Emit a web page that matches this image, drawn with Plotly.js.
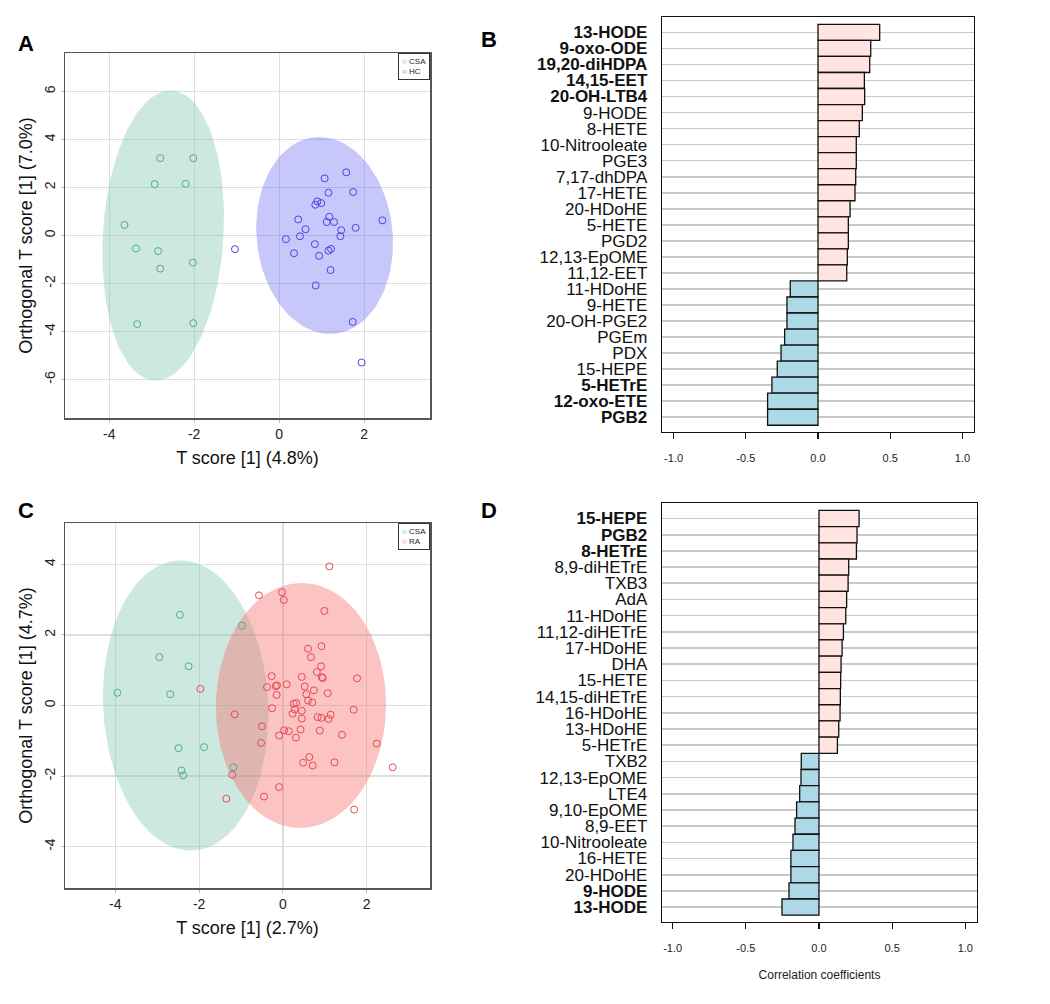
<!DOCTYPE html>
<html>
<head>
<meta charset="utf-8">
<script src="https://cdn.plot.ly/plotly-3.0.1.min.js"></script>
<style>html,body{margin:0;padding:0;background:#fff}#chart{width:1050px;height:1004px}</style>
</head>
<body>
<div id="chart"></div>
<script>
// ---------- Panel A: OPLS-DA scores, CSA vs HC ----------
const aCsaX = [-2.80, -2.02, -2.93, -2.20, -3.64, -3.37, -2.85, -2.80, -2.03, -3.34, -2.02];
const aCsaY = [3.22, 3.22, 2.14, 2.15, 0.44, -0.54, -0.65, -1.38, -1.13, -3.69, -3.65];
const aHcX = [-1.04, 1.58, 1.07, 1.16, 1.74, 0.85, 0.90, 0.99, 0.45, 1.18, 1.12, 1.29, 0.62, 1.46, 1.80, 2.43, 0.16, 0.49, 1.44, 0.84, 0.35, 0.94, 1.16, 1.22, 1.21, 0.86, 1.73, 1.94];
const aHcY = [-0.57, 2.63, 2.38, 1.78, 1.81, 1.28, 1.42, 1.35, 0.67, 0.78, 0.56, 0.56, 0.26, 0.22, 0.32, 0.63, -0.15, -0.03, -0.03, -0.36, -0.74, -0.85, -0.63, -0.56, -1.44, -2.08, -3.60, -5.29];
// ellipse: [centerX, centerY, radiusX, radiusY, shearX]
const ellipseA_CSA = [-2.73, 0.0, 1.42, 6.04, 0.175];
const ellipseA_HC = [1.07, 0.0, 1.605, 4.10, -0.125];
const aTicksX = [-4, -2, 0, 2];
const aTicksY = [-6, -4, -2, 0, 2, 4, 6];

// ---------- Panel C: OPLS-DA scores, CSA vs RA ----------
const cCsaX = [-2.46, -2.95, -2.25, -3.95, -2.69, -2.49, -1.88, -2.42, -2.38, -1.18, -0.98];
const cCsaY = [2.57, 1.37, 1.11, 0.36, 0.32, -1.21, -1.18, -1.84, -1.98, -1.75, 2.26];
const cRaX = [1.11, -0.57, -0.02, 0.02, 0.99, 0.60, 0.92, 0.67, 0.91, 0.81, 0.45, 0.93, 0.95, 1.77, -0.27, -0.38, -0.17, -0.14, 0.09, 0.52, 0.74, -0.15, 0.56, 1.07, -1.97, 0.60, 0.70, 0.26, 0.32, 0.28, 0.23, 0.45, 0.45, -0.26, -1.15, 0.83, 0.92, 1.09, 1.14, 1.69, -0.50, 0.03, 0.14, 0.42, 0.88, -0.09, 0.31, 1.41, -0.52, 2.24, 0.63, 0.48, 0.71, 1.23, 2.62, -1.21, -0.09, -0.45, -1.35, 1.70];
const cRaY = [3.94, 3.12, 3.21, 2.99, 2.68, 1.61, 1.68, 1.37, 1.11, 0.95, 0.81, 0.80, 0.78, 0.77, 0.83, 0.52, 0.55, 0.57, 0.60, 0.54, 0.43, 0.30, 0.32, 0.35, 0.47, 0.14, 0.09, 0.05, 0.07, -0.11, -0.23, -0.15, -0.37, -0.08, -0.25, -0.33, -0.35, -0.38, -0.26, -0.12, -0.59, -0.70, -0.73, -0.68, -0.71, -0.85, -0.91, -0.83, -1.06, -1.08, -1.46, -1.62, -1.70, -1.61, -1.75, -1.96, -2.31, -2.58, -2.64, -2.95];
const ellipseC_CSA = [-2.32, 0.0, 1.97, 4.11, -0.12];
const ellipseC_RA = [0.43, 0.0, 2.03, 3.47, 0.02];
const cTicksX = [-4, -2, 0, 2];
const cTicksY = [-4, -2, 0, 2, 4];

// ---------- Panel B: correlation coefficients (CSA vs HC) ----------
const bNames = ["13-HODE", "9-oxo-ODE", "19,20-diHDPA", "14,15-EET", "20-OH-LTB4", "9-HODE", "8-HETE", "10-Nitrooleate", "PGE3", "7,17-dhDPA", "17-HETE", "20-HDoHE", "5-HETE", "PGD2", "12,13-EpOME", "11,12-EET", "11-HDoHE", "9-HETE", "20-OH-PGE2", "PGEm", "PDX", "15-HEPE", "5-HETrE", "12-oxo-ETE", "PGB2"];
const bValues = [0.427, 0.365, 0.358, 0.321, 0.323, 0.307, 0.286, 0.265, 0.265, 0.261, 0.256, 0.222, 0.210, 0.210, 0.203, 0.199, -0.192, -0.215, -0.215, -0.231, -0.256, -0.282, -0.319, -0.349, -0.349];
const bBold = ["13-HODE", "9-oxo-ODE", "19,20-diHDPA", "14,15-EET", "20-OH-LTB4", "5-HETrE", "12-oxo-ETE", "PGB2"];

// ---------- Panel D: correlation coefficients (CSA vs RA) ----------
const dNames = ["15-HEPE", "PGB2", "8-HETrE", "8,9-diHETrE", "TXB3", "AdA", "11-HDoHE", "11,12-diHETrE", "17-HDoHE", "DHA", "15-HETE", "14,15-diHETrE", "16-HDoHE", "13-HDoHE", "5-HETrE", "TXB2", "12,13-EpOME", "LTE4", "9,10-EpOME", "8,9-EET", "10-Nitrooleate", "16-HETE", "20-HDoHE", "9-HODE", "13-HODE"];
const dValues = [0.274, 0.260, 0.256, 0.203, 0.199, 0.189, 0.183, 0.167, 0.158, 0.151, 0.148, 0.146, 0.144, 0.135, 0.126, -0.121, -0.123, -0.132, -0.153, -0.164, -0.178, -0.192, -0.192, -0.205, -0.253];
const dBold = ["15-HEPE", "PGB2", "8-HETrE", "9-HODE", "13-HODE"];

const corrTicks = [-1, -0.5, 0, 0.5, 1];
const corrTickText = ["-1.0", "-0.5", "0.0", "0.5", "1.0"];

// ---------- styling ----------
const FONT = "Liberation Sans, Arial, Helvetica, sans-serif";
const W = 1050, H = 1004;
const px = v => v / W;
const py = v => 1 - v / H;

const colCSA = "rgb(80,172,142)";
const colHC = "rgb(70,70,225)";
const colRA = "rgb(232,72,82)";
const fillCSA = "rgba(128,198,178,0.40)";
const fillHC = "rgba(100,100,245,0.36)";
const fillRA = "rgba(246,112,108,0.42)";
const pinkBar = "#FFE4E1";
const blueBar = "#ADD8E6";

function ellipseTrace(p, fill, xa, ya) {
  const xs = [], ys = [];
  for (let i = 0; i <= 120; i++) {
    const t = 2 * Math.PI * i / 120;
    xs.push(p[0] + p[2] * Math.cos(t) + p[4] * Math.sin(t));
    ys.push(p[1] + p[3] * Math.sin(t));
  }
  return {type: "scatter", mode: "lines", x: xs, y: ys, fill: "toself", fillcolor: fill,
          line: {width: 0, color: "rgba(0,0,0,0)"}, xaxis: xa, yaxis: ya, hoverinfo: "skip", showlegend: false};
}
function pts(x, y, col, xa, ya) {
  return {type: "scatter", mode: "markers", x: x, y: y, xaxis: xa, yaxis: ya, showlegend: false,
          marker: {symbol: "circle-open", size: 7, color: col, line: {width: 1, color: col}}};
}
function bars(names, vals, xa, ya) {
  return {type: "bar", orientation: "h", x: vals, y: names, xaxis: xa, yaxis: ya, width: 1, showlegend: false,
          marker: {color: vals.map(v => v >= 0 ? pinkBar : blueBar), line: {color: "#111", width: 1.3}}};
}
function boldText(names, bold) {
  return names.map(n => bold.includes(n) ? "<b>" + n + "</b>" : n);
}
const hyphen = v => String(v).replace("\u2212", "-");

const traces = [
  ellipseTrace(ellipseA_CSA, fillCSA, "x", "y"),
  ellipseTrace(ellipseA_HC, fillHC, "x", "y"),
  pts(aCsaX, aCsaY, colCSA, "x", "y"),
  pts(aHcX, aHcY, colHC, "x", "y"),
  bars(bNames, bValues, "x2", "y2"),
  ellipseTrace(ellipseC_CSA, fillCSA, "x3", "y3"),
  ellipseTrace(ellipseC_RA, fillRA, "x3", "y3"),
  pts(cCsaX, cCsaY, colCSA, "x3", "y3"),
  pts(cRaX, cRaY, colRA, "x3", "y3"),
  bars(dNames, dValues, "x4", "y4")
];

function scatterX(dom, range, vals, title, anchor) {
  return {domain: dom, range: range, anchor: anchor, tickvals: vals, ticktext: vals.map(hyphen), showgrid: true, gridcolor: "#dedede", gridwidth: 1.2,
    zeroline: false, showline: true, mirror: true, linecolor: "#555", linewidth: 1.5,
    ticks: "outside", ticklen: 3, tickcolor: "#bbb", tickfont: {family: FONT, size: 14, color: "#222"},
    ticklabelstandoff: 0,
    title: {text: title, font: {family: FONT, size: 18, color: "#111"}, standoff: 10}};
}
function scatterY(dom, range, vals, title, anchor) {
  return {domain: dom, range: range, tickvals: vals, ticktext: vals.map(hyphen), anchor: anchor, showgrid: true, gridcolor: "#dedede", gridwidth: 1.2,
    zeroline: false, showline: true, mirror: true, linecolor: "#555", linewidth: 1.5,
    ticks: "outside", ticklen: 3, tickcolor: "#bbb", tickangle: -90, tickfont: {family: FONT, size: 14, color: "#222"},
    ticklabelstandoff: 0,
    title: {text: title, font: {family: FONT, size: 18, color: "#111"}, standoff: 4}};
}
function barX(dom, range, anchor, title) {
  const ax = {domain: dom, range: range, anchor: anchor, tickvals: corrTicks, ticktext: corrTickText,
    showgrid: false, zeroline: false, showline: true, mirror: true, linecolor: "#111", linewidth: 1.3,
    ticks: "outside", ticklen: 6, tickcolor: "#111", tickwidth: 1.2, ticklabelstandoff: 9,
    tickfont: {family: FONT, size: 11, color: "#222"}};
  if (title) ax.title = {text: title, font: {family: FONT, size: 12, color: "#222"}, standoff: 18};
  return ax;
}
function barY(dom, names, bold, anchor) {
  return {domain: dom, type: "category", categoryorder: "array", categoryarray: names, range: [24.92, -0.96], anchor: anchor,
    tickvals: names, ticktext: boldText(names, bold), showgrid: true, gridcolor: "#c9c9c9", gridwidth: 1.6,
    zeroline: false, showline: true, mirror: true, linecolor: "#111", linewidth: 1.3, ticks: "", ticklabelstandoff: 10,
    tickfont: {family: FONT, size: 17, color: "#111"}};
}

const panelFont = {family: FONT, size: 22, color: "#000"};
function letter(t, x, y) {
  return {text: "<b>" + t + "</b>", xref: "paper", yref: "paper", x: px(x), y: py(y), xanchor: "center", yanchor: "middle",
    showarrow: false, font: panelFont};
}
function legendBox(labels, cols, xRight, yTop) {
  const txt = labels.map((l, i) => "<span style='color:" + cols[i] + "'>\u25CB</span> " + l).join("<br>");
  return {text: txt, xref: "paper", yref: "paper", x: px(xRight), y: py(yTop), xanchor: "right", yanchor: "top",
    showarrow: false, align: "left", bordercolor: "#333", borderwidth: 1, borderpad: 3, bgcolor: "#fff",
    font: {family: FONT, size: 8, color: "#222"}};
}

const layout = {
  width: W, height: H, margin: {l: 0, r: 0, t: 0, b: 0}, paper_bgcolor: "#fff", plot_bgcolor: "rgba(0,0,0,0)",
  showlegend: false, barmode: "overlay", bargap: 0,
  xaxis: scatterX([px(65), px(430)], [-5.04, 3.55], aTicksX, "T score [1] (4.8%)", "y"),
  yaxis: scatterY([py(418), py(53)], [-7.6, 7.6], aTicksY, "Orthogonal T score [1] (7.0%)", "x"),
  xaxis2: barX([px(662), px(974)], [-1.08, 1.08], "y2"),
  yaxis2: barY([py(432), py(17)], bNames, bBold, "x2"),
  xaxis3: scatterX([px(65), px(430)], [-5.2, 3.51], cTicksX, "T score [1] (2.7%)", "y3"),
  yaxis3: scatterY([py(888), py(523)], [-5.17, 5.17], cTicksY, "Orthogonal T score [1] (4.7%)", "x3"),
  xaxis4: barX([px(662), px(977)], [-1.073, 1.08], "y4", "Correlation coefficients"),
  yaxis4: barY([py(922), py(503)], dNames, dBold, "x4"),
  annotations: [
    letter("A", 26, 44), letter("B", 489, 40), letter("C", 26, 510), letter("D", 489, 510),
    legendBox(["CSA", "HC"], [colCSA, colHC], 430, 53),
    legendBox(["CSA", "RA"], [colCSA, colRA], 430, 523)
  ]
};

Plotly.newPlot("chart", traces, layout, {staticPlot: true, displayModeBar: false});
</script>
</body>
</html>
